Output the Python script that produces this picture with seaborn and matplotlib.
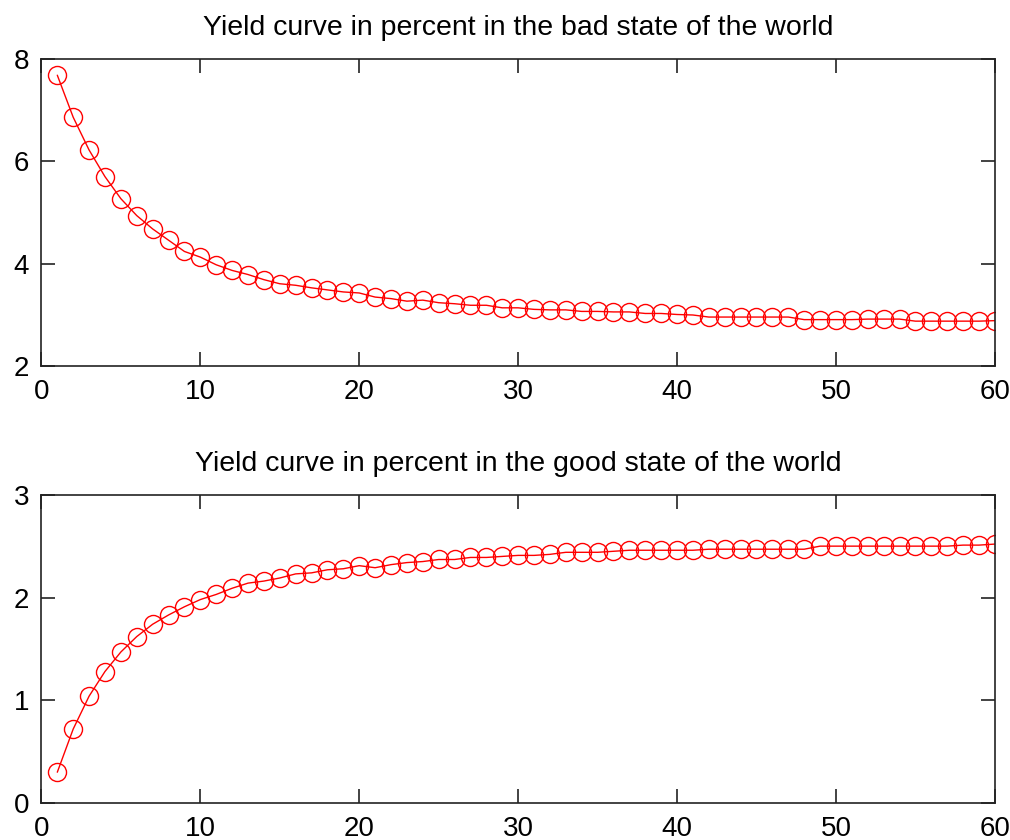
import matplotlib

matplotlib.use("Agg")
import matplotlib.pyplot as plt
import numpy as np
import pandas as pd
import seaborn as sns

# Maturities 1..60 (shared by both panels)
maturity = list(range(1, 61))

# Yield curve, bad state (percent)
yield_bad = [
    7.68, 6.86, 6.22, 5.70, 5.27, 4.94, 4.68, 4.46, 4.24, 4.13,
    3.98, 3.87, 3.79, 3.69, 3.61, 3.58, 3.53, 3.49, 3.45, 3.43,
    3.35, 3.32, 3.27, 3.29, 3.24, 3.22, 3.19, 3.19, 3.14, 3.14,
    3.11, 3.10, 3.10, 3.07, 3.07, 3.06, 3.06, 3.03, 3.03, 3.01,
    3.00, 2.96, 2.96, 2.96, 2.96, 2.96, 2.96, 2.91, 2.91, 2.91,
    2.91, 2.92, 2.92, 2.92, 2.88, 2.88, 2.88, 2.88, 2.88, 2.89,
]

# Yield curve, good state (percent)
yield_good = [
    0.30, 0.72, 1.04, 1.28, 1.47, 1.62, 1.74, 1.83, 1.91, 1.98,
    2.03, 2.09, 2.14, 2.16, 2.19, 2.23, 2.24, 2.27, 2.28, 2.31,
    2.29, 2.32, 2.34, 2.35, 2.37, 2.37, 2.39, 2.39, 2.40, 2.41,
    2.41, 2.42, 2.44, 2.44, 2.44, 2.45, 2.46, 2.46, 2.46, 2.46,
    2.46, 2.47, 2.47, 2.47, 2.47, 2.47, 2.47, 2.47, 2.50, 2.50,
    2.50, 2.50, 2.50, 2.50, 2.50, 2.50, 2.50, 2.51, 2.51, 2.52,
]

TITLES = [
    "Yield curve in percent in the bad state of the world",
    "Yield curve in percent in the good state of the world",
]

sns.set_style("white")
plt.rcParams.update({
    "font.family": ["Liberation Sans", "DejaVu Sans"],
    "font.size": 17,
    "text.color": "black",
    "axes.edgecolor": "#222222",
    "axes.linewidth": 1.2,
    "xtick.direction": "in",
    "ytick.direction": "in",
    "xtick.top": True,
    "xtick.bottom": True,
    "ytick.left": True,
    "ytick.right": True,
    "xtick.major.size": 10,
    "ytick.major.size": 10,
    "xtick.major.width": 1.2,
    "ytick.major.width": 1.2,
    "xtick.major.pad": 9,
    "ytick.major.pad": 9,
    "xtick.color": "#222222",
    "ytick.color": "#222222",
    "xtick.labelcolor": "black",
    "ytick.labelcolor": "black",
})

fig = plt.figure(figsize=(10.1, 8.4), dpi=100)
ax_top = fig.add_axes([0.041, 0.564, 0.944, 0.366])
ax_bot = fig.add_axes([0.041, 0.044, 0.944, 0.367])

panels = [
    (ax_top, yield_bad, (2, 8), [2, 4, 6, 8]),
    (ax_bot, yield_good, (0, 3), [0, 1, 2, 3]),
]

for (ax, values, ylim, yticks), title in zip(panels, TITLES):
    df = pd.DataFrame({"maturity": maturity, "yield": values})
    sns.lineplot(data=df, x="maturity", y="yield", ax=ax, color="red",
                 linewidth=1.0, marker="o", markersize=13,
                 markerfacecolor="none", markeredgecolor="red",
                 markeredgewidth=1.0)
    ax.set_xlim(0, 60)
    ax.set_ylim(*ylim)
    ax.set_xticks([0, 10, 20, 30, 40, 50, 60])
    ax.set_yticks(yticks)
    ax.set_xlabel("")
    ax.set_ylabel("")
    ax.set_title(title, fontsize=20.5, pad=17, color="black")
    for side in ["top", "right", "left", "bottom"]:
        ax.spines[side].set_visible(True)
    ax.tick_params(labelsize=20)

fig.savefig("out.png", dpi=100)
